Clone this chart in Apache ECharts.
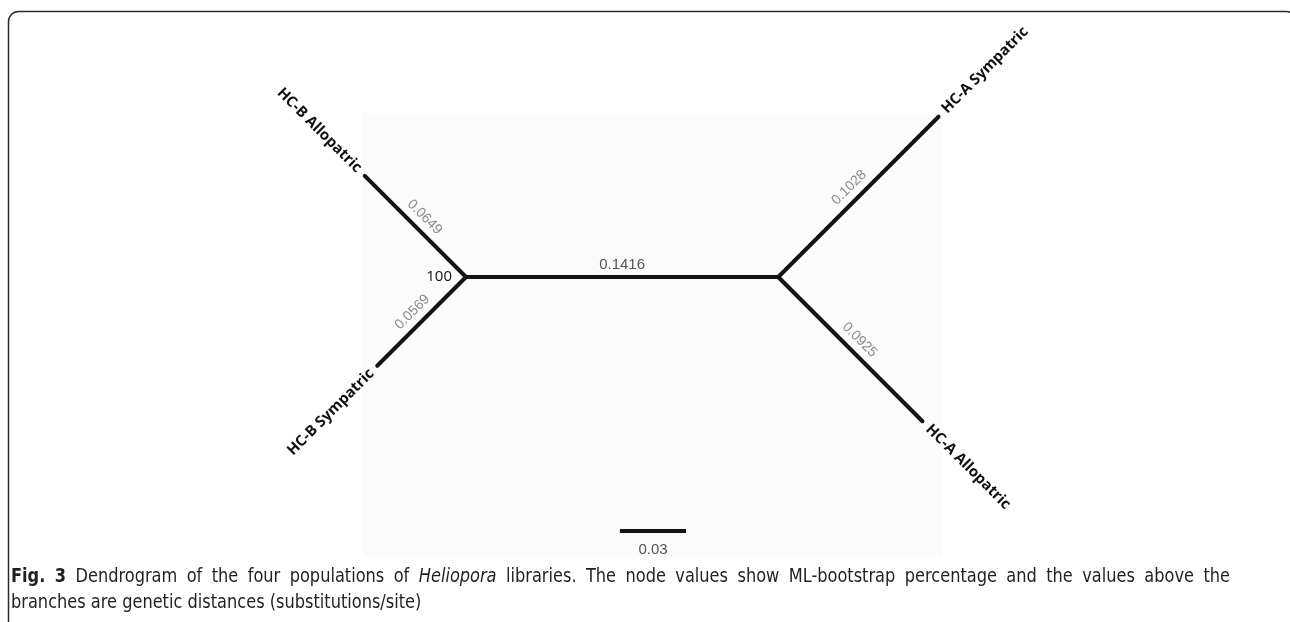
<!DOCTYPE html>
<html>
<head>
<meta charset="utf-8">
<title>Heliopora dendrogram</title>
<script src="https://cdn.jsdelivr.net/npm/echarts@6/dist/echarts.min.js"></script>
<style>
  html, body { margin: 0; padding: 0; background: #ffffff; }
  #chart { width: 1290px; height: 622px; }
</style>
</head>
<body>
<div id="chart"></div>
<script>
// ---- tree data (branch lengths in substitutions/site) ----
const taxa = ['HC-B Allopatric', 'HC-B Sympatric', 'HC-A Sympatric', 'HC-A Allopatric'];
const tipLengths = [0.0649, 0.0569, 0.1028, 0.0925];
const internalLength = 0.1416;
const bootstrapValues = [100];
const scaleBarLength = 0.03;

// ---- caption text ----
const captionLead = 'Fig. 3';
const captionLine1 = 'Dendrogram of the four populations of Heliopora libraries. The node values show ML-bootstrap percentage and the values above the';
const captionLine2 = 'branches are genetic distances (substitutions/site)';
const captionItalic = ['Heliopora'];

// ---- layout (drawing geometry, not data) ----
const PX_PER_UNIT = 2205;              // pixels per substitution/site
const tipParent = [0, 0, 1, 1];        // which internal node each tip hangs from
const tipAngles = [135, 225, 45, -45]; // branch direction, degrees
const nodeOriginPx = [466, 277];       // where the first internal node sits
const scaleBarStart = [0.0698, 0.1152];// left end of the scale bar, tree units

const W = 1290, H = 622;

// internal nodes: node 0 at the origin, node 1 one internal branch to the right
const internalNodes = [[0, 0], [internalLength, 0]];

const edges = [];
edges.push({ from: internalNodes[0], to: internalNodes[1], len: internalLength, taxon: null });
taxa.forEach(function (name, i) {
  const p = internalNodes[tipParent[i]];
  const a = tipAngles[i] * Math.PI / 180;
  const L = tipLengths[i];
  edges.push({
    from: p,
    to: [p[0] + L * Math.cos(a), p[1] - L * Math.sin(a)],
    len: L,
    taxon: name
  });
});
// every branch as [x1, y1, x2, y2, index]
const edgeData = edges.map(function (e, i) {
  return [e.from[0], e.from[1], e.to[0], e.to[1], i];
});

const LABEL_FONT = '"Liberation Sans", Arial, sans-serif';
const TAXON_FONT = '"Open Sans", "Noto Sans", sans-serif';
const CAPTION_FAMILY = '"DejaVu Sans Condensed", "Liberation Sans", sans-serif';

function renderBranch(params, api) {
  const e = edges[api.value(4)];
  const p1 = api.coord([api.value(0), api.value(1)]);
  const p2 = api.coord([api.value(2), api.value(3)]);
  const dx = p2[0] - p1[0], dy = p2[1] - p1[1];
  const len = Math.hypot(dx, dy);
  const ux = dx / len, uy = dy / len;
  // keep the text reading left to right
  let r = Math.atan2(-dy, dx);
  if (r > Math.PI / 2) r -= Math.PI;
  else if (r < -Math.PI / 2) r += Math.PI;
  const nx = -Math.sin(r), ny = -Math.cos(r); // the side above the baseline
  const mx = (p1[0] + p2[0]) / 2, my = (p1[1] + p2[1]) / 2;
  const isInternal = e.taxon === null;
  const off = isInternal ? 12 : 13;

  const children = [{
    type: 'line',
    shape: { x1: p1[0], y1: p1[1], x2: p2[0], y2: p2[1] },
    style: { stroke: '#141414', lineWidth: 4, lineCap: 'round' }
  }, {
    type: 'text',
    x: mx + nx * off,
    y: my + ny * off,
    rotation: r,
    style: {
      text: e.len.toFixed(4),
      fill: isInternal ? '#555555' : '#8a8a8a',
      font: (isInternal ? '15px ' : '14px ') + LABEL_FONT,
      textAlign: 'center',
      textVerticalAlign: 'middle'
    }
  }];

  if (!isInternal) {
    const gap = 8;
    children.push({
      type: 'text',
      x: p2[0] + ux * gap,
      y: p2[1] + uy * gap,
      rotation: r,
      style: {
        text: e.taxon,
        fill: '#111111',
        font: 'bold 15px ' + TAXON_FONT,
        textAlign: ux > 0 ? 'left' : 'right',
        textVerticalAlign: 'middle'
      }
    });
  }
  return { type: 'group', children: children };
}

function renderBootstrap(params, api) {
  const p = api.coord([api.value(0), api.value(1)]);
  return {
    type: 'text',
    x: p[0] - 14,
    y: p[1],
    style: {
      text: String(api.value(2)),
      fill: '#111111',
      font: '15px ' + TAXON_FONT,
      textAlign: 'right',
      textVerticalAlign: 'middle'
    }
  };
}

function renderScaleBar(params, api) {
  const x0 = api.value(0), y0 = api.value(1), L = api.value(2);
  const p1 = api.coord([x0, y0]);
  const p2 = api.coord([x0 + L, y0]);
  return {
    type: 'group',
    children: [{
      type: 'line',
      shape: { x1: p1[0], y1: p1[1], x2: p2[0], y2: p2[1] },
      style: { stroke: '#141414', lineWidth: 4 }
    }, {
      type: 'text',
      x: (p1[0] + p2[0]) / 2,
      y: p1[1] + 19,
      style: {
        text: String(L),
        fill: '#555555',
        font: '15px ' + LABEL_FONT,
        textAlign: 'center',
        textVerticalAlign: 'middle'
      }
    }]
  };
}

// ---- caption: first line justified to the panel width, second line ragged ----
const CAP_SIZE = 20;
const CAP_SCALE_X = 0.9;           // condensed face
const CAP_LEFT = 11, CAP_RIGHT = 1230;
const CAP_Y1 = 577, CAP_Y2 = 603;
const measureCtx = document.createElement('canvas').getContext('2d');
function fontFor(word) {
  return (word.italic ? 'italic ' : '') + (word.bold ? 'bold ' : '') + CAP_SIZE + 'px ' + CAPTION_FAMILY;
}
function textWidth(word) {
  measureCtx.font = fontFor(word);
  return measureCtx.measureText(word.text).width;
}
function toWords(str, bold) {
  return str.split(' ').map(function (t) {
    return { text: t, bold: !!bold, italic: captionItalic.indexOf(t) >= 0 };
  });
}
function captionElements() {
  const els = [];
  const line1 = toWords(captionLead, true).concat(toWords(captionLine1, false));
  const avail = (CAP_RIGHT - CAP_LEFT) / CAP_SCALE_X;
  const widths = line1.map(textWidth);
  const total = widths.reduce(function (a, b) { return a + b; }, 0);
  const gap = (avail - total) / (line1.length - 1);
  let x = 0;
  line1.forEach(function (w, i) {
    els.push({
      type: 'text', x: x, y: CAP_Y1, silent: true,
      style: { text: w.text, font: fontFor(w), fill: '#231f20', textVerticalAlign: 'middle' }
    });
    x += widths[i] + gap;
  });
  const l2 = { text: captionLine2, bold: false, italic: false };
  els.push({
    type: 'text', x: 0, y: CAP_Y2, silent: true,
    style: { text: l2.text, font: fontFor(l2), fill: '#231f20', textVerticalAlign: 'middle' }
  });
  return els;
}

const chart = echarts.init(document.getElementById('chart'), null, { renderer: 'canvas' });

chart.setOption({
  backgroundColor: '#ffffff',
  animation: false,
  grid: { left: 0, right: 0, top: 0, bottom: 0 },
  xAxis: {
    type: 'value', show: false,
    min: -nodeOriginPx[0] / PX_PER_UNIT,
    max: (W - nodeOriginPx[0]) / PX_PER_UNIT
  },
  yAxis: {
    type: 'value', show: false, inverse: true,
    min: -nodeOriginPx[1] / PX_PER_UNIT,
    max: (H - nodeOriginPx[1]) / PX_PER_UNIT
  },
  graphic: [
    // panel frame
    {
      type: 'rect', z: -10, silent: true,
      shape: { x: 8.5, y: 11.5, width: 1288, height: 700, r: 10 },
      style: { fill: 'none', stroke: '#2b2b2b', lineWidth: 1.5 }
    },
    // faint backdrop behind the tree drawing
    {
      type: 'rect', z: -9, silent: true,
      shape: { x: 363, y: 113, width: 579, height: 444 },
      style: { fill: '#fbfbfb' }
    },
    // figure caption
    {
      type: 'group', x: CAP_LEFT, y: 0, scaleX: CAP_SCALE_X, silent: true,
      children: captionElements()
    }
  ],
  series: [
    {
      type: 'custom',
      name: 'branches',
      coordinateSystem: 'cartesian2d',
      renderItem: renderBranch,
      data: edgeData,
      silent: true
    },
    {
      type: 'custom',
      name: 'bootstrap',
      coordinateSystem: 'cartesian2d',
      renderItem: renderBootstrap,
      data: [[internalNodes[0][0], internalNodes[0][1], bootstrapValues[0]]],
      silent: true
    },
    {
      type: 'custom',
      name: 'scale',
      coordinateSystem: 'cartesian2d',
      renderItem: renderScaleBar,
      data: [[scaleBarStart[0], scaleBarStart[1], scaleBarLength]],
      silent: true
    }
  ]
});
</script>
</body>
</html>
